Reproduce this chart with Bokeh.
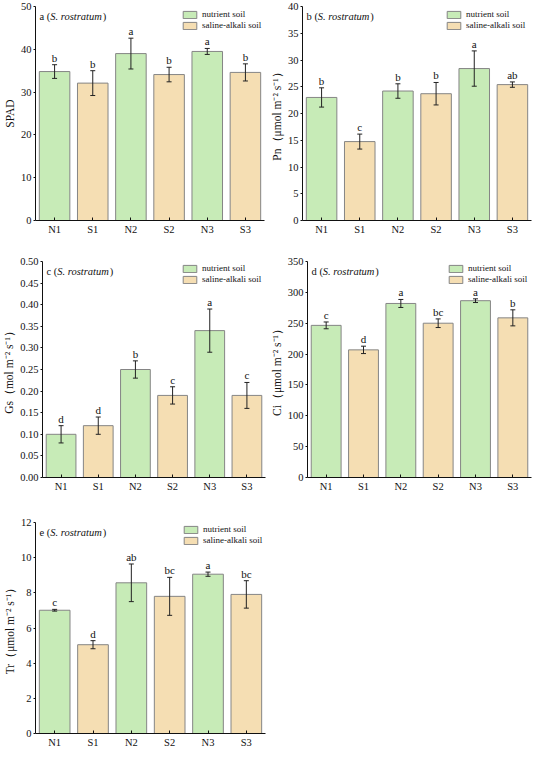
from bokeh.plotting import figure
from bokeh.models import (ColumnDataSource, FactorRange, FixedTicker, Whisker, TeeHead,
                          Legend, LegendItem, NumeralTickFormatter, Range1d)
from bokeh.layouts import column, row
from bokeh.core.properties import value
from bokeh.embed import file_html
from bokeh.resources import INLINE

# ---------------- data ----------------
groups = ["N1", "S1", "N2", "S2", "N3", "S3"]
soil = ["nutrient soil", "saline-alkali soil", "nutrient soil", "saline-alkali soil",
        "nutrient soil", "saline-alkali soil"]

spad_mean = [34.8, 32.1, 39.0, 34.1, 39.5, 34.6]
spad_err = [1.6, 2.9, 3.6, 1.7, 0.7, 2.0]
spad_sig = ["b", "b", "a", "b", "a", "b"]
spad_ticks = [0, 10, 20, 30, 40, 50]

pn_mean = [23.0, 14.75, 24.2, 23.7, 28.4, 25.4]
pn_err = [1.8, 1.4, 1.35, 2.1, 3.3, 0.5]
pn_sig = ["b", "c", "b", "b", "a", "ab"]
pn_ticks = [0, 5, 10, 15, 20, 25, 30, 35, 40]

gs_mean = [0.10, 0.12, 0.25, 0.19, 0.34, 0.19]
gs_err = [0.02, 0.02, 0.02, 0.02, 0.05, 0.03]
gs_sig = ["d", "d", "b", "c", "a", "c"]
gs_ticks = [0.0, 0.05, 0.10, 0.15, 0.20, 0.25, 0.30, 0.35, 0.40, 0.45, 0.50]

ci_mean = [246.5, 206.8, 282.0, 250.0, 286.5, 258.7]
ci_err = [5.5, 6.0, 6.5, 7.0, 3.0, 13.0]
ci_sig = ["c", "d", "a", "bc", "a", "b"]
ci_ticks = [0, 50, 100, 150, 200, 250, 300, 350]

tr_mean = [7.01, 5.05, 8.57, 7.80, 9.06, 7.91]
tr_err = [0.05, 0.23, 1.07, 1.08, 0.12, 0.78]
tr_sig = ["c", "d", "ab", "bc", "a", "bc"]
tr_ticks = [0, 2, 4, 6, 8, 10, 12]

# ---------------- style ----------------
SERIF = "Liberation Serif"
GREEN = "#c7ebb7"
TAN = "#f5deb3"
EDGE = "#858585"
INK = "#111111"
LETTER_W = {"a": 0.444, "b": 0.5, "c": 0.444, "d": 0.5, "e": 0.444}


def panel(letter, ylabel, mean, err, sig, ticks, fmt, w, h, bl, br, bt, bb):
    fw = w - bl - br
    fh = h - bt - bb
    p = figure(x_range=FactorRange(factors=groups),
               y_range=Range1d(ticks[0], ticks[-1]),
               width=w, height=h, title=None,
               min_border_left=bl, min_border_right=br,
               min_border_top=bt, min_border_bottom=bb,
               output_backend="svg", toolbar_location=None)
    p.outline_line_color = None
    p.xgrid.grid_line_color = None
    p.ygrid.grid_line_color = None
    p.background_fill_color = "white"
    p.border_fill_color = "white"

    upper = [m + e for m, e in zip(mean, err)]
    lower = [m - e for m, e in zip(mean, err)]
    src = ColumnDataSource(dict(x=groups, top=mean, upper=upper, lower=lower, sig=sig))
    n_idx = [i for i, s in enumerate(soil) if s == "nutrient soil"]
    s_idx = [i for i, s in enumerate(soil) if s != "nutrient soil"]
    src_n = ColumnDataSource(dict(x=[groups[i] for i in n_idx], top=[mean[i] for i in n_idx]))
    src_s = ColumnDataSource(dict(x=[groups[i] for i in s_idx], top=[mean[i] for i in s_idx]))

    rn = p.vbar(x="x", top="top", width=0.8, source=src_n, fill_color=GREEN,
                line_color=EDGE, line_width=1)
    rs = p.vbar(x="x", top="top", width=0.8, source=src_s, fill_color=TAN,
                line_color=EDGE, line_width=1)

    wh = Whisker(source=src, base="x", upper="upper", lower="lower", level="overlay",
                 line_color="#222222", line_width=1,
                 upper_head=TeeHead(size=5, line_color="#222222", line_width=1),
                 lower_head=TeeHead(size=5, line_color="#222222", line_width=1))
    p.add_layout(wh)

    p.text(x="x", y="upper", text="sig", source=src, text_align="center",
           text_baseline="bottom", text_font=value(SERIF), text_font_size="11px",
           text_color=INK, y_offset=-1)

    # panel title  "a (S. rostratum)"
    fs = 10.5
    pre = f"{letter} ("
    w_pre = (LETTER_W[letter] + 0.25 + 0.333) * fs
    w_it = 4.945 * fs
    ty = ticks[-1]
    common = dict(text_baseline="middle", text_align="left", text_font=value(SERIF),
                  text_font_size=f"{fs}px", text_color=INK, y_offset=10)
    p.text(x=[0], y=[ty], text=[pre], x_offset=4, **common)
    p.text(x=[0], y=[ty], text=["S. rostratum"], x_offset=4 + w_pre,
           text_font_style="italic", **common)
    p.text(x=[0], y=[ty], text=[")"], x_offset=4 + w_pre + w_it + 0.5, **common)

    # legend
    leg = Legend(items=[LegendItem(label="nutrient soil", renderers=[rn]),
                        LegendItem(label="saline-alkali soil", renderers=[rs])],
                 location=(fw - 90, fh - 24),
                 glyph_width=17, glyph_height=9, label_height=9, label_width=20,
                 label_standoff=4, spacing=1, padding=0, margin=0,
                 border_line_color=None, background_fill_alpha=0,
                 label_text_font=SERIF, label_text_font_size="9px",
                 label_text_color=INK)
    p.add_layout(leg)

    # axes
    for ax in (p.xaxis[0], p.yaxis[0]):
        ax.axis_line_color = INK
        ax.axis_line_width = 1
        ax.major_tick_line_color = INK
        ax.major_label_text_font = SERIF
        ax.major_label_text_font_size = "10.5px"
        ax.major_label_text_color = INK
        ax.minor_tick_line_color = None
    p.xaxis.major_tick_in = 3
    p.xaxis.major_tick_out = 0
    p.xaxis.major_label_standoff = 3
    p.yaxis.major_tick_in = 0
    p.yaxis.major_tick_out = 2
    p.yaxis.major_label_standoff = 2
    p.yaxis.ticker = FixedTicker(ticks=ticks)
    if fmt:
        p.yaxis.formatter = NumeralTickFormatter(format=fmt)
    p.yaxis.axis_label = ylabel
    p.yaxis.axis_label_text_font = SERIF
    p.yaxis.axis_label_text_font_style = "normal"
    p.yaxis.axis_label_text_font_size = "11.5px"
    p.yaxis.axis_label_text_color = INK
    p.yaxis.axis_label_standoff = 2
    return p


pa = panel("a", "SPAD", spad_mean, spad_err, spad_sig, spad_ticks, None,
           267, 240, 28, 3, 6, 20)
pb = panel("b", "Pn（μmol m⁻² s⁻¹）", pn_mean, pn_err, pn_sig, pn_ticks, None,
           267, 240, 31, 3, 6, 20)
pc = panel("c", "Gs（mol m⁻² s⁻¹）", gs_mean, gs_err, gs_sig, gs_ticks, "0.00",
           267, 254, 36, 2, 21, 16)
pd = panel("d", "Ci（μmol m⁻² s⁻¹）", ci_mean, ci_err, ci_sig, ci_ticks, None,
           267, 254, 34, 3, 21, 16)
pe = panel("e", "Tr（μmol m⁻² s⁻¹）", tr_mean, tr_err, tr_sig, tr_ticks, None,
           267, 256, 28, 2, 28, 16)

layout = column(row(pa, pb), row(pc, pd), row(pe))

open("out.html", "w").write(file_html(layout, INLINE))
